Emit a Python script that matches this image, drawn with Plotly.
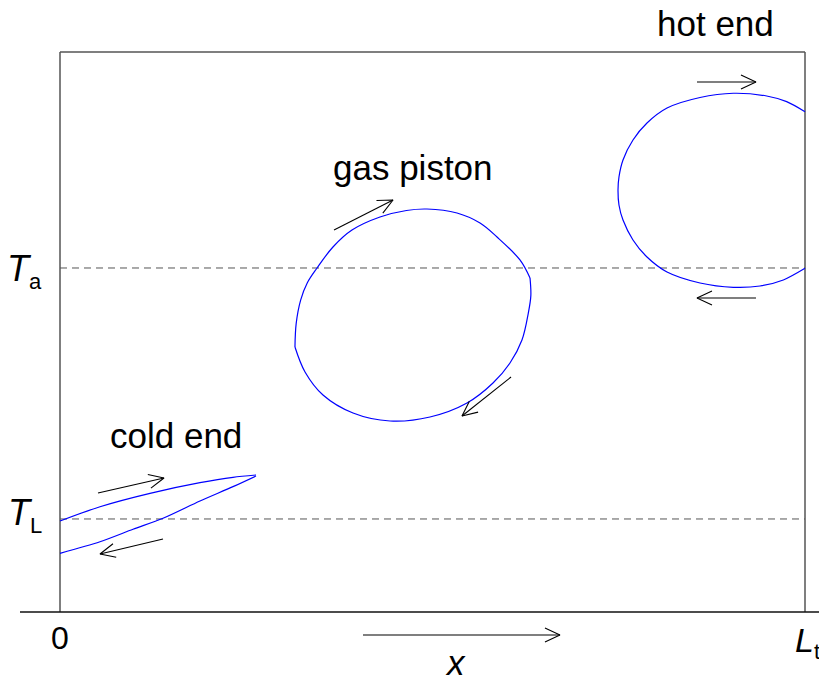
import math
import plotly.graph_objects as go

# ---------------- data (x in % of tube length L_t, y = temperature, arbitrary units) ----------
T_A = 61.43          # ambient temperature level
T_L = 16.61          # cold temperature level
X_MAX = 100.0        # x = L_t

# cold end loop (upper and lower branch)
cold_upper_x = [0.0, 5.37, 12.08, 18.79, 23.22, 26.31]
cold_upper_y = [16.25, 18.80, 21.19, 23.09, 24.05, 24.46]
cold_lower_x = [26.31, 23.22, 18.79, 13.83, 9.80, 5.37, 0.0]
cold_lower_y = [24.29, 22.38, 19.82, 16.73, 14.77, 12.55, 10.48]

# gas piston loop (upper arc and lower arc)
gas_upper_x = [31.54, 31.70, 32.30, 33.20, 34.50, 36.64, 39.19, 42.95, 46.50, 49.26, 53.29, 56.38, 58.66, 61.74, 63.09]
gas_upper_y = [47.32, 51.50, 55.70, 58.80, 61.43, 65.18, 68.21, 70.54, 71.70, 71.96, 71.25, 69.46, 66.96, 62.86, 59.64]
gas_lower_x = [63.09, 63.20, 62.86, 62.01, 60.40, 58.12, 54.63, 49.66, 44.30, 39.33, 35.30, 32.89, 31.54]
gas_lower_y = [59.64, 56.50, 53.39, 48.57, 44.46, 40.89, 37.32, 34.82, 34.11, 35.54, 38.75, 42.86, 47.32]

# hot end loop
hot_x = [100.0, 97.54, 94.86, 90.38, 85.91, 81.48, 78.79, 76.91, 75.57, 75.03, 74.90,
         75.03, 75.57, 76.91, 78.79, 81.48, 85.91, 90.38, 93.96, 97.09, 100.0]
hot_y = [89.34, 91.13, 92.14, 92.63, 91.88, 90.00, 87.32, 84.29, 80.71, 77.68, 75.36,
         72.68, 69.99, 66.43, 63.39, 60.71, 58.75, 57.98, 58.21, 59.29, 61.38]

# direction arrows: (x_start, y_start, x_end, y_end)
arrows = [
    (5.10, 21.25, 13.96, 23.93),     # cold end, upper
    (13.83, 13.04, 5.37, 10.36),     # cold end, lower
    (36.78, 68.21, 44.70, 73.57),    # gas piston, upper
    (60.54, 41.96, 53.96, 35.00),    # gas piston, lower
    (85.50, 94.64, 93.42, 94.64),    # hot end, upper
    (93.42, 56.07, 85.50, 56.07),    # hot end, lower
    (40.67, -4.11, 67.11, -4.11),    # x direction
]

# labels
label_text = ["cold end", "gas piston", "hot end"]
label_x = [15.57, 47.32, 87.92]
label_y = [31.46, 79.46, 105.04]

y_tick_vals = [T_A, T_L]
y_tick_text = ["<i>T</i><sub><span style='font-size:22px'>a</span></sub>",
               "<i>T</i><sub><span style='font-size:22px'>L</span></sub>"]
y_label_pos = [T_A - 0.5, T_L + 0.8]
x_tick_vals = [0.0, X_MAX]
x_tick_text = ["0", "<i>L</i><sub><span style='font-size:22px'>t</span></sub>"]
x_axis_title = "<i>x</i>"

# ---------------- figure ----------------
W_PX, H_PX = 819, 669          # visible area (page has an 8 px body margin)
X_RANGE = [-6.980, 102.953]
Y_RANGE = [-11.607, 107.857]
SX = W_PX / (X_RANGE[1] - X_RANGE[0])
SY = H_PX / (Y_RANGE[1] - Y_RANGE[0])
FONT = "Liberation Sans, Arial, sans-serif"
BLUE = "#0000ff"

fig = go.Figure()

shapes = []
# frame (left, top, right)
for (x0, y0, x1, y1) in [(0, 0, 0, 100), (0, 100, X_MAX, 100), (X_MAX, 0, X_MAX, 100)]:
    shapes.append(dict(type="line", xref="x", yref="y", x0=x0, y0=y0, x1=x1, y1=y1,
                       line=dict(color="#555555", width=1.5), layer="below"))
# x axis line
shapes.append(dict(type="line", xref="x", yref="y", x0=-5.37, y0=0, x1=X_RANGE[1], y1=0,
                   line=dict(color="#111111", width=1.5), layer="below"))
# dashed temperature levels
for tv in y_tick_vals:
    shapes.append(dict(type="line", xref="x", yref="y", x0=0, y0=tv, x1=X_MAX, y1=tv,
                       line=dict(color="#555555", width=1, dash="7px,5px"), layer="below"))

# loops
loops = [(cold_upper_x, cold_upper_y, 0.8), (cold_lower_x, cold_lower_y, 0.8),
         (gas_upper_x, gas_upper_y, 1.0), (gas_lower_x, gas_lower_y, 1.0),
         (hot_x, hot_y, 0.8)]
for xs, ys, sm in loops:
    fig.add_trace(go.Scatter(x=xs, y=ys, mode="lines",
                             line=dict(color=BLUE, width=1.2, shape="spline", smoothing=sm),
                             hoverinfo="skip", showlegend=False))

# arrows with open V heads
HEAD_L, HEAD_W = 15.0, 7.0
ax_pts, ay_pts = [], []
for (x0, y0, x1, y1) in arrows:
    dx, dy = (x1 - x0) * SX, (y1 - y0) * SY
    n = math.hypot(dx, dy)
    ux, uy = dx / n, dy / n
    px_, py_ = -uy, ux
    w1x = x1 + (-HEAD_L * ux + HEAD_W * px_) / SX
    w1y = y1 + (-HEAD_L * uy + HEAD_W * py_) / SY
    w2x = x1 + (-HEAD_L * ux - HEAD_W * px_) / SX
    w2y = y1 + (-HEAD_L * uy - HEAD_W * py_) / SY
    ax_pts += [x0, x1, None, w1x, x1, w2x, None]
    ay_pts += [y0, y1, None, w1y, y1, w2y, None]
fig.add_trace(go.Scatter(x=ax_pts, y=ay_pts, mode="lines",
                         line=dict(color="black", width=1.1),
                         hoverinfo="skip", showlegend=False))

annotations = []
for t, x, y in zip(label_text, label_x, label_y):
    annotations.append(dict(text=t, x=x, y=y, xref="x", yref="y", showarrow=False,
                            font=dict(family=FONT, size=35, color="black")))
# temperature level labels
for yp, tt in zip(y_label_pos, y_tick_text):
    annotations.append(dict(text=tt, x=-2.2, y=yp, xref="x", yref="y", showarrow=False,
                            xanchor="right", yanchor="middle",
                            font=dict(family=FONT, size=36, color="black")))
# position labels
annotations.append(dict(text=x_tick_text[0], x=x_tick_vals[0], y=-4.7, xref="x", yref="y",
                        showarrow=False, font=dict(family=FONT, size=32, color="black")))
annotations.append(dict(text=x_tick_text[1], x=x_tick_vals[1] + 0.3, y=-5.4, xref="x", yref="y",
                        showarrow=False, font=dict(family=FONT, size=34, color="black")))
annotations.append(dict(text=x_axis_title, x=53.15, y=-8.93, xref="x", yref="y",
                        showarrow=False, font=dict(family=FONT, size=35, color="black")))

fig.update_layout(
    width=W_PX, height=H_PX,
    margin=dict(l=0, r=0, t=0, b=0),
    paper_bgcolor="white", plot_bgcolor="white",
    xaxis=dict(range=X_RANGE, visible=False, fixedrange=True),
    yaxis=dict(range=Y_RANGE, visible=False, fixedrange=True),
    shapes=shapes, annotations=annotations,
    showlegend=False,
)

fig.write_html("out.html")
